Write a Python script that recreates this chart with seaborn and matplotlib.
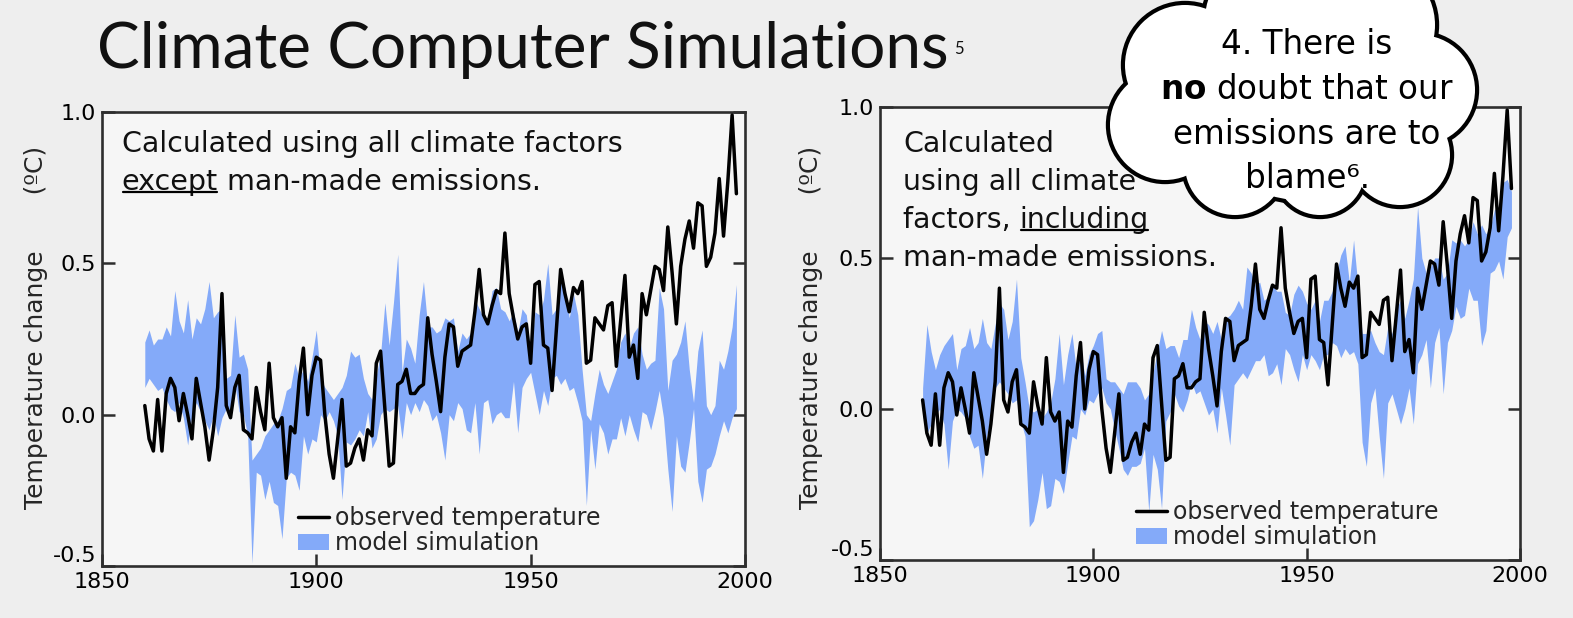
import matplotlib

matplotlib.use("Agg")

import matplotlib.pyplot as plt
import numpy as np
import seaborn as sns
from matplotlib.lines import Line2D
from matplotlib.patches import Circle, Patch
from matplotlib.transforms import IdentityTransform

START_YEAR = 1860

# observed global temperature anomaly (same line in both panels)
OBSERVED = [
    0.03, -0.08, -0.12, 0.05, -0.12, 0.07, 0.12, 0.09, -0.02, 0.07,
    0.00, -0.08, 0.12, 0.04, -0.04, -0.15, -0.05, 0.09, 0.40, 0.03,
    -0.01, 0.09, 0.13, -0.05, -0.06, -0.08, 0.09, 0.01, -0.05, 0.17,
    -0.01, -0.04, -0.01, -0.21, -0.04, -0.06, 0.11, 0.22, 0.00, 0.13,
    0.19, 0.18, 0.00, -0.13, -0.21, -0.08, 0.05, -0.17, -0.16, -0.11,
    -0.08, -0.15, -0.05, -0.07, 0.17, 0.21, 0.02, -0.17, -0.16, 0.10,
    0.11, 0.15, 0.07, 0.07, 0.09, 0.10, 0.32, 0.20, 0.11, 0.01,
    0.19, 0.30, 0.29, 0.16, 0.21, 0.22, 0.23, 0.34, 0.48, 0.33,
    0.30, 0.36, 0.41, 0.40, 0.60, 0.40, 0.32, 0.25, 0.29, 0.30,
    0.17, 0.43, 0.44, 0.23, 0.22, 0.08, 0.28, 0.48, 0.40, 0.34,
    0.42, 0.40, 0.44, 0.17, 0.18, 0.32, 0.30, 0.28, 0.36, 0.37,
    0.16, 0.31, 0.46, 0.19, 0.23, 0.12, 0.40, 0.33, 0.41, 0.49,
    0.48, 0.41, 0.62, 0.47, 0.30, 0.49, 0.58, 0.64, 0.55, 0.70,
    0.69, 0.49, 0.52, 0.60, 0.78, 0.59, 0.77, 0.99, 0.73,
]

# model range, natural factors only
NATURAL_UPPER = [
    0.24, 0.28, 0.23, 0.25, 0.25, 0.29, 0.26, 0.41, 0.31, 0.27,
    0.38, 0.25, 0.32, 0.30, 0.35, 0.44, 0.32, 0.34, 0.35, 0.12,
    0.13, 0.33, 0.19, 0.20, 0.15, -0.15, -0.13, -0.11, -0.07, -0.05,
    -0.03, -0.02, 0.02, 0.08, 0.09, 0.17, 0.12, 0.15, 0.11, 0.19,
    0.28, 0.12, 0.09, 0.07, 0.05, 0.07, 0.09, 0.13, 0.21, 0.19,
    0.20, 0.12, 0.07, 0.05, 0.13, 0.20, 0.37, 0.23, 0.37, 0.53,
    0.14, 0.25, 0.22, 0.17, 0.33, 0.44, 0.29, 0.29, 0.27, 0.28,
    0.32, 0.31, 0.32, 0.21, 0.27, 0.25, 0.27, 0.38, 0.35, 0.32,
    0.32, 0.41, 0.42, 0.35, 0.34, 0.31, 0.34, 0.27, 0.35, 0.33,
    0.20, 0.34, 0.33, 0.38, 0.50, 0.33, 0.35, 0.45, 0.42, 0.32,
    0.40, 0.33, 0.15, 0.00, -0.02, 0.07, 0.15, 0.10, 0.07, 0.11,
    0.15, 0.24, 0.27, 0.22, 0.27, 0.29, 0.20, 0.15, 0.17, 0.18,
    0.42, 0.35, 0.08, 0.18, 0.20, 0.24, 0.31, 0.15, 0.04, 0.21,
    0.28, 0.03, 0.00, 0.03, 0.18, 0.15, 0.21, 0.29, 0.43,
]
NATURAL_LOWER = [
    0.09, 0.12, 0.10, 0.08, 0.09, 0.05, 0.02, 0.01, 0.04, -0.01,
    -0.10, 0.00, 0.04, 0.01, -0.02, -0.05, 0.00, -0.07, -0.01, 0.02,
    0.01, 0.10, 0.01, 0.00, -0.07, -0.49, -0.19, -0.20, -0.28, -0.22,
    -0.29, -0.30, -0.41, -0.21, -0.19, -0.20, -0.25, -0.07, -0.13, -0.08,
    -0.09, 0.00, -0.02, 0.01, -0.02, -0.07, -0.28, -0.09, -0.10, -0.08,
    -0.05, -0.07, 0.01, -0.11, -0.08, 0.00, 0.02, 0.01, 0.02, 0.03,
    -0.08, 0.04, 0.00, 0.04, 0.01, 0.05, 0.03, -0.02, 0.00, -0.06,
    -0.15, 0.00, -0.02, 0.04, 0.02, -0.05, -0.06, 0.04, -0.13, 0.04,
    0.05, -0.03, 0.00, 0.01, -0.01, -0.01, 0.11, -0.06, 0.09, 0.12,
    0.14, 0.07, 0.00, 0.08, 0.03, 0.12, 0.13, 0.10, 0.12, 0.08,
    0.09, 0.04, -0.02, -0.30, -0.05, -0.18, -0.03, -0.06, -0.13, -0.08,
    -0.08, -0.01, -0.07, 0.00, -0.05, -0.09, 0.01, 0.00, -0.05, 0.01,
    0.08, -0.01, -0.18, -0.32, -0.07, -0.17, -0.19, -0.09, 0.02, -0.22,
    -0.29, -0.18, -0.17, -0.13, -0.07, -0.02, -0.06, -0.01, 0.02,
]

# model range, all factors including emissions
ALL_UPPER = [
    0.07, 0.28, 0.19, 0.13, 0.18, 0.21, 0.23, 0.25, 0.13, 0.20,
    0.21, 0.27, 0.20, 0.22, 0.30, 0.22, 0.20, 0.28, 0.35, 0.33,
    0.23, 0.29, 0.43, 0.17, 0.09, 0.00, -0.01, 0.00, -0.03, -0.01,
    0.02, 0.10, 0.25, 0.08, 0.18, 0.25, 0.13, 0.20, 0.11, 0.18,
    0.21, 0.25, 0.26, 0.10, 0.09, 0.09, 0.07, 0.05, 0.09, 0.09,
    0.09, 0.07, 0.03, 0.05, 0.12, 0.19, 0.26, 0.20, 0.21, 0.21,
    0.17, 0.23, 0.23, 0.33, 0.27, 0.23, 0.29, 0.28, 0.25, 0.29,
    0.23, 0.30, 0.31, 0.33, 0.36, 0.33, 0.47, 0.45, 0.41, 0.42,
    0.36, 0.37, 0.41, 0.39, 0.39, 0.32, 0.31, 0.38, 0.41, 0.39,
    0.35, 0.33, 0.36, 0.29, 0.36, 0.36, 0.39, 0.45, 0.51, 0.54,
    0.42, 0.56, 0.41, 0.25, 0.25, 0.26, 0.22, 0.19, 0.18, 0.27,
    0.25, 0.33, 0.36, 0.30, 0.36, 0.43, 0.67, 0.50, 0.45, 0.47,
    0.50, 0.50, 0.43, 0.45, 0.56, 0.55, 0.56, 0.54, 0.56, 0.62,
    0.58, 0.61, 0.58, 0.60, 0.66, 0.67, 0.75, 0.76, 0.72,
]
ALL_LOWER = [
    -0.02, -0.08, -0.05, -0.02, 0.00, -0.05, -0.20, -0.04, 0.00, -0.01,
    -0.03, -0.09, -0.13, -0.12, -0.23, -0.09, -0.02, 0.07, 0.09, 0.07,
    0.05, 0.02, 0.03, -0.04, -0.09, -0.39, -0.37, -0.30, -0.21, -0.33,
    -0.32, -0.23, -0.24, -0.28, -0.18, -0.09, -0.10, 0.00, -0.02, 0.03,
    0.02, 0.05, 0.07, 0.02, 0.00, -0.07, -0.13, -0.20, -0.22, -0.19,
    -0.19, -0.18, -0.13, -0.34, -0.15, -0.20, -0.33, -0.04, -0.01, 0.05,
    0.01, -0.01, 0.03, 0.09, 0.05, 0.06, 0.02, -0.02, 0.00, -0.08,
    0.07, -0.02, -0.12, 0.08, 0.10, 0.12, 0.10, 0.13, 0.16, 0.16,
    0.18, 0.11, 0.12, 0.15, 0.08, 0.20, 0.18, 0.13, 0.09, 0.18,
    0.13, 0.18, 0.16, 0.13, 0.18, 0.18, 0.22, 0.21, 0.17, 0.20,
    0.18, 0.19, 0.15, -0.11, -0.19, 0.02, 0.07, -0.09, -0.23, 0.02,
    0.05, 0.00, -0.05, 0.00, 0.07, -0.05, 0.15, 0.18, 0.23, 0.07,
    0.22, 0.27, 0.05, 0.22, 0.26, 0.34, 0.30, 0.31, 0.40, 0.36,
    0.36, 0.21, 0.26, 0.45, 0.46, 0.49, 0.43, 0.57, 0.60,
]

X_TICKS = [1850, 1900, 1950, 2000]
Y_TICKS = [-0.5, 0.0, 0.5, 1.0]
LEGEND_LABELS = ["observed temperature", "model simulation"]
Y_LABEL = "Temperature change       (\u00baC)"

BAND = "#84aaf9"
BG = "#eeeeee"
PANEL_BG = "#f6f6f6"
SPINE = "#2e2e2e"

years = np.arange(START_YEAR, START_YEAR + len(OBSERVED))

sns.set_theme(style="white")
plt.rcParams["font.family"] = ["DejaVu Sans"]
plt.rcParams["axes.unicode_minus"] = False

fig = plt.figure(figsize=(15.73, 6.18), dpi=100, facecolor=BG)
ax_l = fig.add_axes([0.0648, 0.0841, 0.4088, 0.7347], facecolor=PANEL_BG)
ax_r = fig.add_axes([0.5594, 0.0939, 0.4069, 0.7330], facecolor=PANEL_BG)


def draw_panel(ax, lower, upper, legend_x, legend_y, label_x, label_y):
    ax.fill_between(years, lower, upper, color=BAND, linewidth=0, zorder=1)
    sns.lineplot(x=years, y=OBSERVED, ax=ax, color="black", linewidth=2.5,
                 legend=False, zorder=3)
    ax.set_xlim(1850, 2000)
    ax.set_ylim(-0.5, 1.0)
    ax.set_xticks(X_TICKS)
    ax.set_yticks(Y_TICKS)
    ax.set_yticklabels([f"{v:.1f}" for v in Y_TICKS])
    ax.get_yticklabels()[0].set_va("bottom")
    ax.tick_params(direction="in", length=9, width=1.8, colors=SPINE,
                   labelcolor="black", labelsize=16, right=True, left=True,
                   bottom=True, top=False, pad=4)
    for s in ax.spines.values():
        s.set_color(SPINE)
        s.set_linewidth(1.9)
    ax.set_xlabel("")
    ax.set_ylabel(Y_LABEL, fontsize=18)
    ax.yaxis.set_label_coords(label_x, label_y)
    handles = [Line2D([], [], color="black", linewidth=2.5),
               Patch(facecolor=BAND, edgecolor="none")]
    ax.legend(handles, LEGEND_LABELS, loc="lower left",
              bbox_to_anchor=(legend_x, legend_y), frameon=False, fontsize=17,
              handlelength=1.3, handletextpad=0.25, labelspacing=0.05,
              borderpad=0, borderaxespad=0)


draw_panel(ax_l, NATURAL_LOWER, NATURAL_UPPER, 0.305, 0.024, -0.084, 0.526)
draw_panel(ax_r, ALL_LOWER, ALL_UPPER, 0.400, 0.024, -0.089, 0.513)

renderer = fig.canvas.get_renderer()


def underline(t):
    bb = t.get_window_extent(renderer)
    y = bb.y0 + 0.14 * bb.height
    fig.add_artist(Line2D([bb.x0 + 1, bb.x1 - 1], [y, y], color="black",
                          linewidth=1.6, transform=IdentityTransform()))


FS = 20.5
TXT = dict(fontsize=FS, va="baseline", ha="left", color="#111111")

ax_l.text(0.031, 0.912, "Calculated using all climate factors",
          transform=ax_l.transAxes, **TXT)
t_exc = ax_l.text(0.031, 0.828, "except", transform=ax_l.transAxes, **TXT)
ax_l.annotate(" man-made emissions.", xy=(1, 0), xycoords=t_exc,
              fontsize=FS, va="bottom", ha="left", color="#111111")
underline(t_exc)

ax_r.text(0.036, 0.901, "Calculated", transform=ax_r.transAxes, **TXT)
ax_r.text(0.036, 0.817, "using all climate", transform=ax_r.transAxes, **TXT)
t_fac = ax_r.text(0.036, 0.733, "factors, ", transform=ax_r.transAxes, **TXT)
t_inc = ax_r.annotate("including", xy=(1, 0), xycoords=t_fac, fontsize=FS,
                      va="bottom", ha="left", color="#111111")
ax_r.text(0.036, 0.649, "man-made emissions.", transform=ax_r.transAxes, **TXT)
fig.canvas.draw()
underline(t_inc)

# title
title = fig.text(0.0617, 1 - 68 / 618, "Climate Computer Simulations",
                 fontsize=46, va="baseline", ha="left", color="#111111",
                 family=["Lato", "DejaVu Sans"])
fig.canvas.draw()
tb = title.get_window_extent(renderer)
fig.text((tb.x1 + 5) / fig.bbox.width, 1 - 54 / 618, "5", fontsize=12,
         va="baseline", ha="left", color="#111111",
         family=["Lato", "DejaVu Sans"])

# thought cloud overlay in pixel units
over = fig.add_axes([0, 0, 1, 1], zorder=10)
over.set_xlim(0, 1573)
over.set_ylim(618, 0)
over.axis("off")
over.patch.set_alpha(0)
lobes = [(1185, 65, 60), (1165, 125, 55), (1235, 165, 50), (1320, 170, 45),
         (1400, 155, 50), (1420, 90, 55), (1370, 25, 65), (1270, 20, 65),
         (1300, 100, 100)]
for cx, cy, r in lobes:
    over.add_patch(Circle((cx, cy), r, facecolor="white", edgecolor="black",
                          linewidth=6, zorder=1))
for cx, cy, r in lobes:
    over.add_patch(Circle((cx, cy), r, facecolor="white", edgecolor="none",
                          zorder=2))
cloud_lines = ["4. There is", r"$\mathbf{no}$ doubt that our",
               "emissions are to", "blame\u2076."]
for i, line in enumerate(cloud_lines):
    over.text(1307, 45 + 44.5 * i, line, fontsize=23.5, ha="center",
              va="center", color="black", zorder=3)

fig.savefig("out.png", dpi=100, facecolor=BG)
plt.close(fig)
